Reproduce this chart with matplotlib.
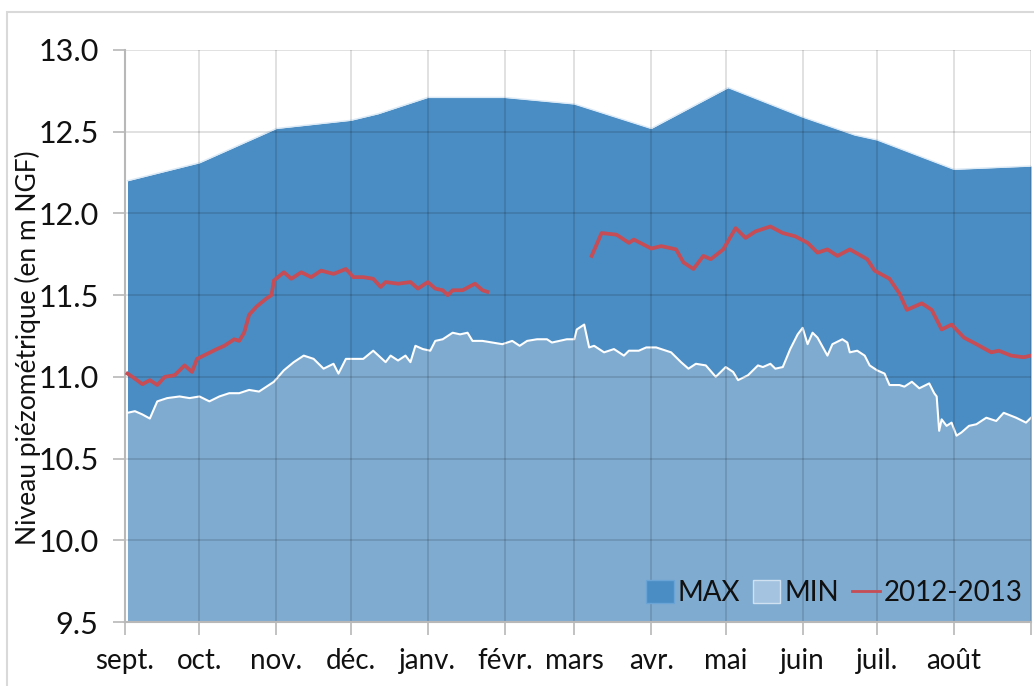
import matplotlib.pyplot as plt
from matplotlib.lines import Line2D
from matplotlib.patches import Patch, Rectangle

plt.rcParams['font.family'] = ['Lato', 'DejaVu Sans']

# month starts (days since 1 Sept) and labels
month_days = [0, 30, 61, 91, 122, 153, 181, 212, 242, 273, 303, 334, 365]
month_labels = ['sept.', 'oct.', 'nov.', 'déc.', 'janv.', 'févr.', 'mars',
                'avr.', 'mai', 'juin', 'juil.', 'août', '']

# MAX envelope
max_days = [1, 30, 61, 91, 102, 122, 153, 181, 212, 243, 273, 294, 303, 334, 365]
max_vals = [12.20, 12.31, 12.52, 12.57, 12.61, 12.71, 12.71, 12.67, 12.52,
            12.77, 12.59, 12.48, 12.45, 12.27, 12.29]

# MIN envelope
min_days = [1, 4, 7, 10, 13, 17, 22, 26, 30, 34, 38, 42, 46, 50, 54, 57, 60, 64,
            68, 72, 76, 80, 84, 86, 89, 93, 96, 100, 105, 107, 110, 113, 115, 117,
            120, 123, 125, 128, 132, 135, 138, 140, 144, 148, 152, 156, 159, 162,
            166, 170, 172, 175, 178, 181, 182, 184, 185, 187, 189, 193, 197, 201,
            203, 207, 210, 214, 220, 224, 227, 230, 234, 238, 240, 242, 245, 247,
            251, 255, 257, 260, 262, 265, 268, 271, 273, 275, 277, 279, 283, 285,
            289, 291, 292, 295, 298, 300, 303, 306, 308, 312, 314, 317, 320, 324,
            326, 327, 328, 329, 331, 333, 335, 337, 340, 343, 347, 351, 354, 359,
            363, 365]
min_vals = [10.78, 10.79, 10.77, 10.745, 10.85, 10.87, 10.88, 10.87, 10.88, 10.85,
            10.88, 10.90, 10.90, 10.92, 10.91, 10.94, 10.97, 11.04, 11.09, 11.13,
            11.11, 11.05, 11.08, 11.02, 11.11, 11.11, 11.11, 11.16, 11.09, 11.13,
            11.10, 11.13, 11.09, 11.19, 11.17, 11.16, 11.22, 11.23, 11.27, 11.26,
            11.27, 11.22, 11.22, 11.21, 11.20, 11.22, 11.19, 11.22, 11.23, 11.23,
            11.21, 11.22, 11.23, 11.23, 11.29, 11.31, 11.32, 11.18, 11.19, 11.15,
            11.17, 11.13, 11.16, 11.16, 11.18, 11.18, 11.15, 11.09, 11.05, 11.08,
            11.07, 11.00, 11.03, 11.06, 11.03, 10.98, 11.01, 11.07, 11.06, 11.08,
            11.05, 11.06, 11.17, 11.26, 11.30, 11.20, 11.27, 11.24, 11.13, 11.20,
            11.23, 11.21, 11.15, 11.16, 11.13, 11.07, 11.04, 11.02, 10.95, 10.95,
            10.94, 10.97, 10.93, 10.96, 10.90, 10.88, 10.67, 10.74, 10.70, 10.72,
            10.64, 10.66, 10.70, 10.71, 10.75, 10.73, 10.78, 10.75, 10.72, 10.75]

# 2012-2013 level (two measured periods)
obs_days_a = [1, 3, 7, 10, 13, 16, 20, 24, 27, 29, 33, 37, 40, 44, 46, 48, 50, 53,
              57, 59, 60, 64, 67, 71, 75, 79, 84, 89, 92, 96, 100, 103, 105, 110,
              115, 118, 122, 125, 128, 130, 132, 136, 141, 144, 146]
obs_vals_a = [11.02, 11.00, 10.955, 10.98, 10.95, 11.00, 11.01, 11.07, 11.03, 11.11,
              11.14, 11.17, 11.19, 11.23, 11.22, 11.27, 11.38, 11.43, 11.48, 11.50,
              11.59, 11.64, 11.60, 11.64, 11.61, 11.65, 11.63, 11.66, 11.61, 11.61,
              11.60, 11.55, 11.58, 11.57, 11.58, 11.54, 11.58, 11.54, 11.53, 11.50,
              11.53, 11.53, 11.57, 11.53, 11.52]
obs_days_b = [188, 192, 198, 203, 205, 212, 216, 222, 225, 229, 233, 236, 241, 246,
              250, 254, 260, 265, 270, 275, 279, 283, 287, 292, 299, 302, 308, 312,
              315, 321, 325, 329, 333, 338, 343, 349, 352, 357, 362, 365]
obs_vals_b = [11.74, 11.88, 11.87, 11.82, 11.84, 11.785, 11.80, 11.78, 11.70, 11.66,
              11.74, 11.72, 11.78, 11.91, 11.85, 11.89, 11.92, 11.88, 11.86, 11.82,
              11.76, 11.78, 11.74, 11.78, 11.72, 11.65, 11.60, 11.51, 11.41, 11.45,
              11.41, 11.29, 11.32, 11.24, 11.20, 11.15, 11.16, 11.13, 11.12, 11.13]

max_color = '#4A8DC4'
min_color = '#80ABD0'
red = '#C64C55'

fig = plt.figure(figsize=(10.34, 6.86), dpi=100)
ax = fig.add_axes([125 / 1034, 1 - 622 / 686, 906 / 1034, 572 / 686])

ax.fill_between(max_days, 9.5, max_vals, color=max_color, lw=0, zorder=1)
ax.plot(max_days, max_vals, color='#dceaf6', lw=1.0, zorder=1.1)
ax.fill_between(min_days, 9.5, min_vals, color=min_color, lw=0, zorder=1.2)
ax.plot(min_days, min_vals, color='white', lw=1.5, zorder=1.3)
ax.plot(obs_days_a, obs_vals_a, color=red, lw=2.7, zorder=3)
ax.plot(obs_days_b, obs_vals_b, color=red, lw=2.7, zorder=3)

ax.set_xlim(0, 365)
ax.set_ylim(9.5, 13.0)
ax.set_xticks(month_days)
ax.set_xticklabels(month_labels)
ax.set_yticks([9.5, 10.0, 10.5, 11.0, 11.5, 12.0, 12.5, 13.0])
ax.set_yticklabels(['9.5', '10.0', '10.5', '11.0', '11.5', '12.0', '12.5', '13.0'])
ax.tick_params(axis='both', colors='#b8b8b8', labelcolor='#111111',
               length=9, width=1.2, direction='out')
ax.tick_params(axis='x', labelsize=20, pad=10)
ax.tick_params(axis='y', labelsize=22, pad=10)

ax.set_axisbelow('line')
ax.grid(True, color='black', alpha=0.14, lw=1.2)
for side in ['top', 'right']:
    ax.spines[side].set_visible(False)
ax.spines['left'].set_color('#b8b8b8')
ax.spines['bottom'].set_color('#b8b8b8')
ax.spines['left'].set_linewidth(1.5)
ax.spines['bottom'].set_linewidth(1.5)

fig.text(28 / 1034, 1 - 348 / 686, 'Niveau piézométrique (en m NGF)', rotation=90,
         ha='center', va='center', fontsize=19, color='#111111')

handles = [Patch(facecolor=max_color, edgecolor='#6aa3d5', label='MAX'),
           Patch(facecolor='#a3c3e0', edgecolor='#d0e2f2', label='MIN'),
           Line2D([0], [0], color=red, lw=2, label='2012-2013')]
leg = ax.legend(handles=handles, loc='lower right', ncol=3, frameon=False,
                fontsize=20, handlelength=1.0, handleheight=0.9, handletextpad=0.15,
                columnspacing=0.45, borderaxespad=0.0, bbox_to_anchor=(1.003, 0.008))
for t in leg.get_texts():
    t.set_color('#111111')

# outer chart frame
fig.patches.append(Rectangle((7 / 1034, -0.1), 1.2, 1 - 12 / 686 + 0.1,
                             transform=fig.transFigure, fill=False,
                             edgecolor='#d9d9d9', lw=1.5))

fig.savefig('out.png', dpi=100)
